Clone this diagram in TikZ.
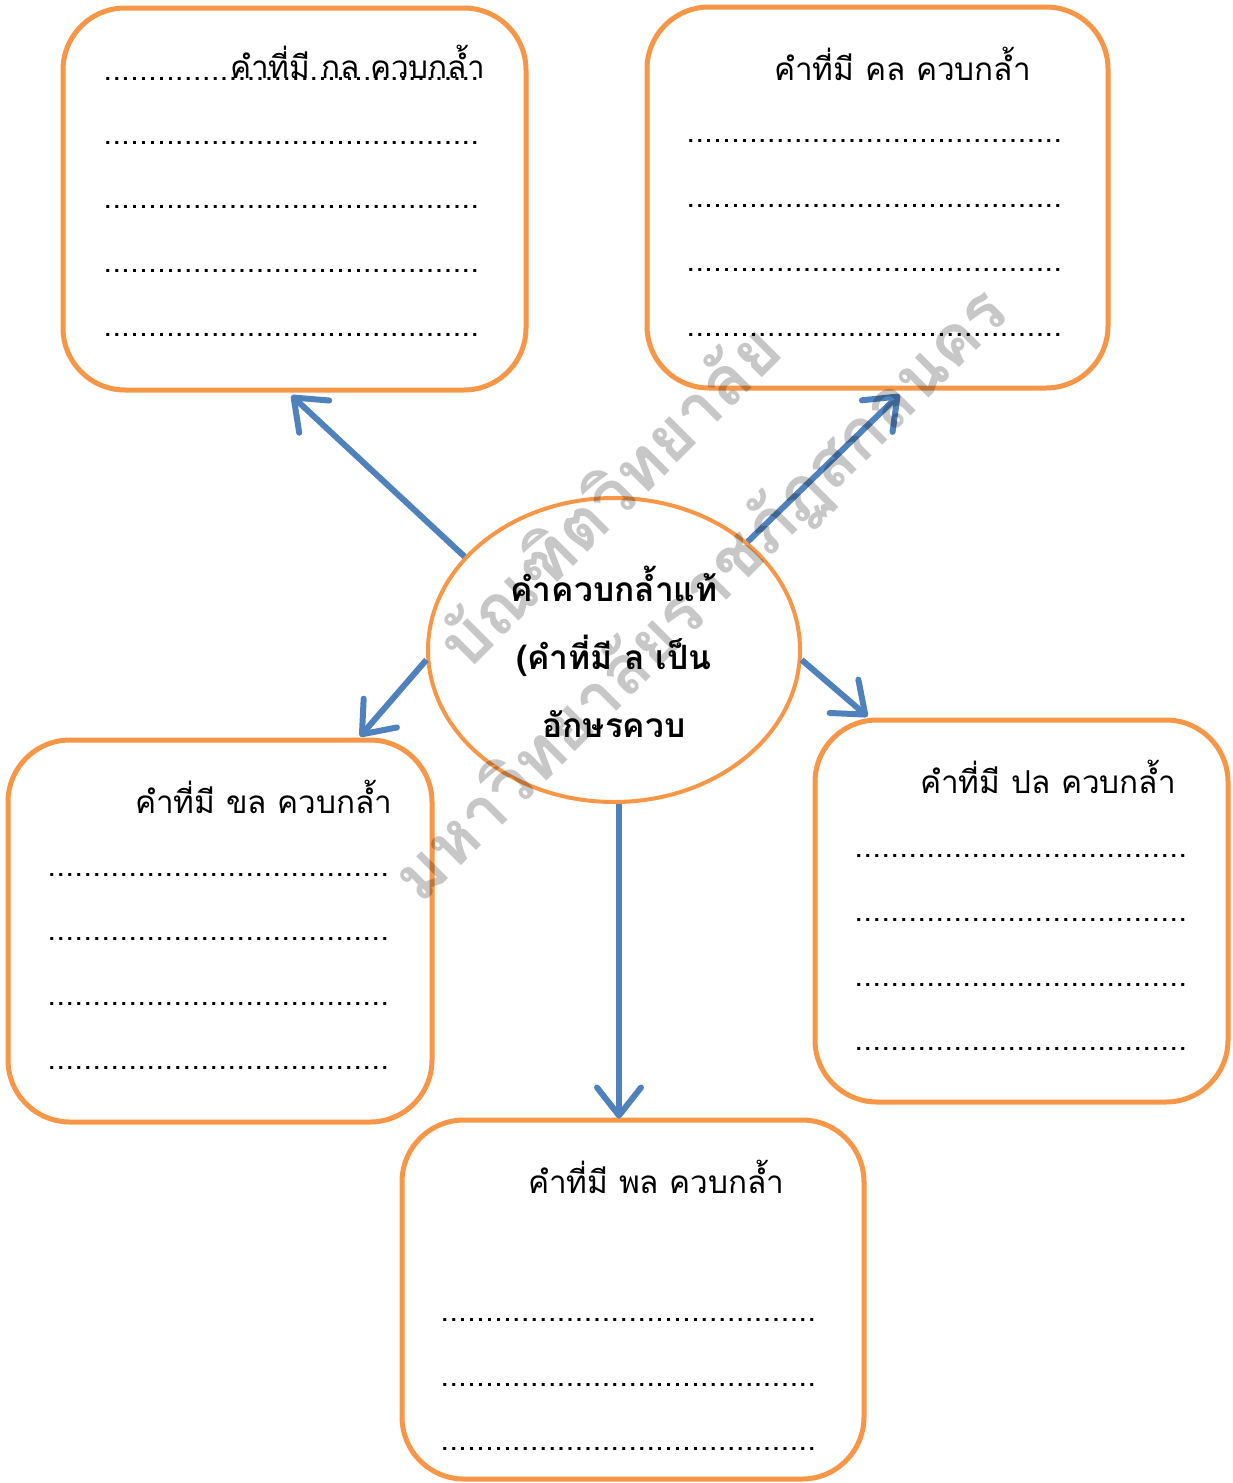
\documentclass[tikz,border=0pt]{standalone}
\usepackage{fontspec}
\newfontfamily\thaifont[Script=Thai]{Loma}
\usetikzlibrary{arrows.meta,shapes.geometric}
\definecolor{orgc}{HTML}{F79646}
\definecolor{bluec}{HTML}{4F81BD}
\newcommand\dotrow[1]{\hbox to #1{\xleaders\hbox to 8.78pt{\hss.\hss}\hfill}}
\begin{document}
\begin{tikzpicture}[x=1pt,y=-1pt,
  box/.style={draw=orgc,line width=5pt,rounded corners=62pt,fill=white,rectangle,inner sep=0pt},
  arr/.style={draw=bluec,line width=6pt,-{Straight Barb[length=28pt,width=44pt,round]}},
  ttl/.style={font=\thaifont\fontsize{31.5}{36}\selectfont,anchor=base west,inner sep=0pt},
  dts/.style={font=\thaifont\fontsize{30}{30}\selectfont,anchor=base west,inner sep=0pt},
  wm/.style={font=\thaifont\bfseries\fontsize{68}{80}\selectfont,text=black,text opacity=0.22,rotate=45,inner sep=0pt}]
\useasboundingbox (0,0) rectangle (1232,1483);
% boxes
\node[box,minimum width=463pt,minimum height=382pt] (b1) at (294.5,199) {};
\node[box,minimum width=461pt,minimum height=381pt] (b2) at (877.5,197.5) {};
\node[box,minimum width=424pt,minimum height=382pt] (b3) at (220,931) {};
\node[box,minimum width=413pt,minimum height=382pt] (b4) at (1021.5,911) {};
\node[box,minimum width=462pt,minimum height=359pt] (b5) at (633,1299.5) {};
\node[draw=orgc,line width=4pt,fill=white,ellipse,minimum width=372pt,minimum height=304pt,inner sep=0pt] (ell) at (614,650) {};
% ellipse text
\node[font=\thaifont\bfseries\fontsize{33.5}{68}\selectfont,align=center,anchor=base,inner sep=0pt] (et) at (614,737)
  {คำควบกล้ำแท้\\(คำที่มี ล เป็น\\อักษรควบ};
% titles
\node[ttl] (t1) at (230,78) {คำที่มี กล ควบกล้ำ};
\node[ttl] (t2) at (774,80) {คำที่มี คล ควบกล้ำ};
\node[ttl] (t3) at (135,813) {คำที่มี ขล ควบกล้ำ};
\node[ttl] (t4) at (920,793) {คำที่มี ปล ควบกล้ำ};
\node[ttl] (t5) at (528,1193) {คำที่มี พล ควบกล้ำ};
% dotted rows
\foreach \y [count=\i] in {80,144,208,272,336}
  \node[dts] (d1-\i) at (103,\y) {\dotrow{376pt}};
\foreach \y [count=\i] in {142,207,271,336}
  \node[dts] (d2-\i) at (686,\y) {\dotrow{376pt}};
\foreach \y [count=\i] in {876,940,1005,1069}
  \node[dts] (d3-\i) at (47,\y) {\dotrow{342pt}};
\foreach \y [count=\i] in {857,921,986,1050}
  \node[dts] (d4-\i) at (854,\y) {\dotrow{333pt}};
\foreach \y [count=\i] in {1321,1386,1450}
  \node[dts] (d5-\i) at (440,\y) {\dotrow{376pt}};
% arrows
\draw[arr] (ell.148) -- ([xshift=-3pt,yshift=-3pt]b1.south);
\draw[arr] (ell.39) -- ([xshift=22pt,yshift=-4pt]b2.south);
\draw[arr] (ell.183) -- ([xshift=140pt,yshift=1pt]b3.north);
\draw[arr] (ell.357) -- ([xshift=-154pt,yshift=1pt]b4.north);
\draw[arr] ([xshift=5pt]ell.south) -- ([xshift=-14pt,yshift=-1pt]b5.north);
% watermark
\node[wm] (w1) at (607,494) {บัณฑิตวิทยาลัย};
\node[wm] (w2) at (702,596) {มหาวิทยาลัยราชภัฏสกลนคร};
\end{tikzpicture}
\end{document}
